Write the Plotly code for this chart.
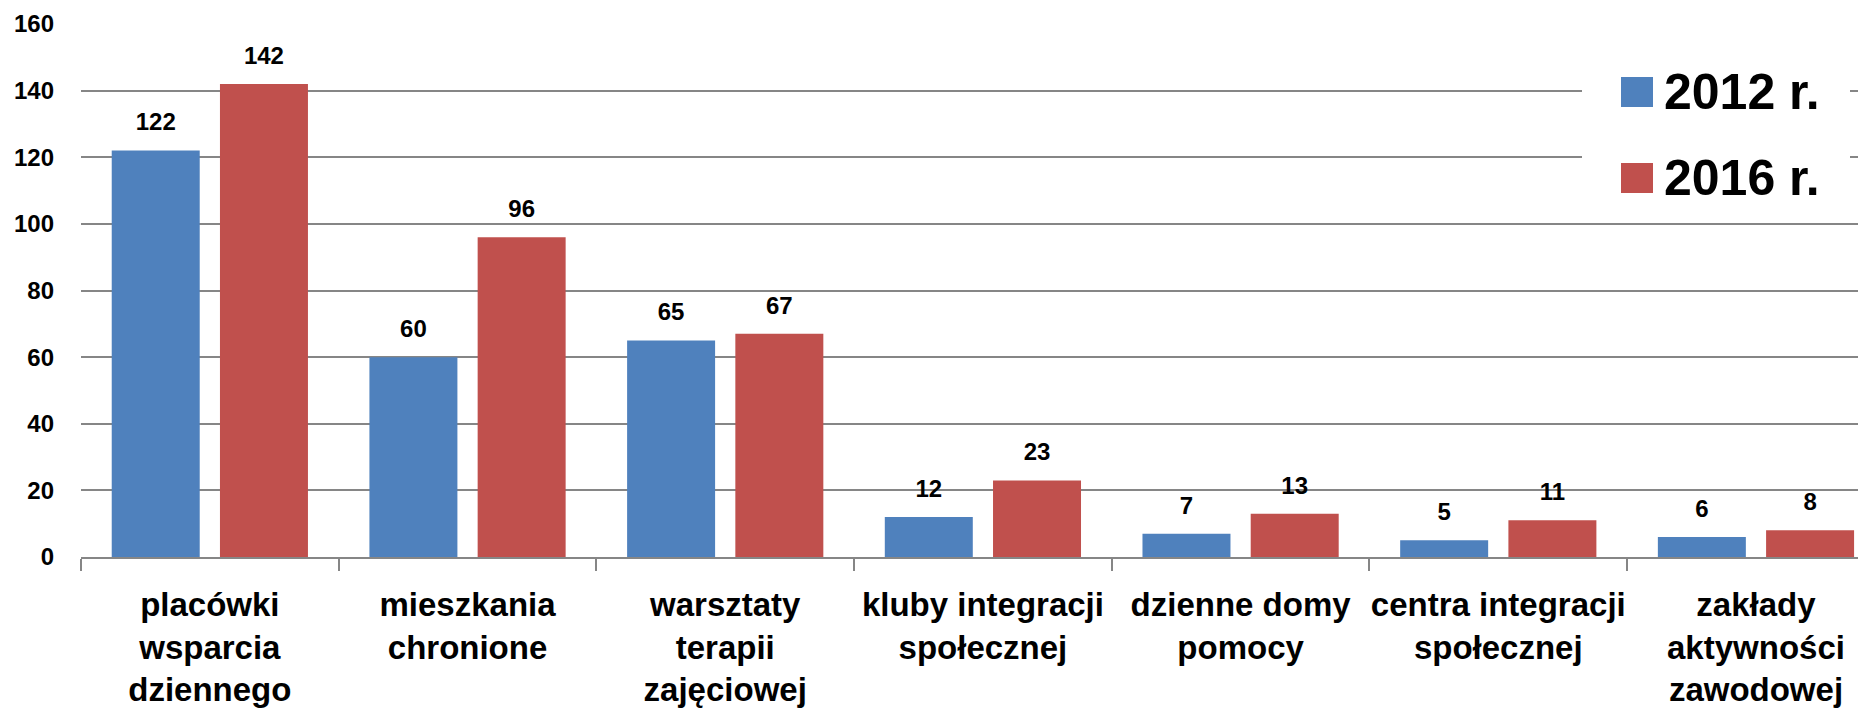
import plotly.graph_objects as go

categories = [
    "placówki<br>wsparcia<br>dziennego",
    "mieszkania<br>chronione",
    "warsztaty<br>terapii<br>zajęciowej",
    "kluby integracji<br>społecznej",
    "dzienne domy<br>pomocy",
    "centra integracji<br>społecznej",
    "zakłady<br>aktywności<br>zawodowej",
]
values_2012 = [122, 60, 65, 12, 7, 5, 6]
values_2016 = [142, 96, 67, 23, 13, 11, 8]
series_names = ["2012 r.", "2016 r."]
colors = ["#4F81BD", "#C0504D"]
y_ticks = [0, 20, 40, 60, 80, 100, 120, 140, 160]

# page has an 8px body margin; figure sized so it ends at the window edge
OFF = 8
W, H = 1866 - OFF, 712 - OFF
PLOT_L, PLOT_T, PLOT_B = 81, 24, 557          # page pixel coordinates of plot area
L, T = PLOT_L - OFF, PLOT_T - OFF
B = H - (PLOT_B - OFF)
R = 0
PW, PH = W - L - R, PLOT_B - PLOT_T
BOLD = "Liberation Sans"


def px(x):
    return (x - PLOT_L) / PW


def py(y):
    return (PLOT_B - y) / PH


fig = go.Figure()
for name, vals, col, og in zip(series_names, [values_2012, values_2016], colors, ["a", "b"]):
    fig.add_trace(go.Bar(
        x=categories, y=vals, name=name, marker_color=col, marker_line_width=0,
        offsetgroup=og, showlegend=False,
    ))
for name, vals, og in zip(series_names, [values_2012, values_2016], ["a", "b"]):
    fig.add_trace(go.Scatter(
        x=categories, y=vals, mode="markers+text", text=[str(v) for v in vals],
        textposition="top center", offsetgroup=og, showlegend=False,
        marker=dict(size=21, opacity=0), hoverinfo="skip",
        textfont=dict(family=BOLD, size=24, color="#000000", weight="bold"),
        cliponaxis=False,
    ))

fig.update_layout(
    width=W, height=H,
    margin=dict(l=L, r=R, t=T, b=B, pad=0),
    paper_bgcolor="white", plot_bgcolor="white",
    barmode="group", bargap=0.16, bargroupgap=0.187,
    scattermode="group", scattergap=0.16,
    font=dict(family=BOLD, color="#000000"),
    xaxis=dict(
        range=[-0.5, 6.427], showline=True, linecolor="#868686", linewidth=2,
        ticks="outside", ticklen=12, tickwidth=2, tickcolor="#868686",
        tickson="boundaries", ticklabelstandoff=17, automargin=False,
        tickangle=0,
        tickfont=dict(family=BOLD, size=33, color="#000000", weight="bold"),
        showgrid=False, zeroline=False,
    ),
    yaxis=dict(
        range=[0, 160], tickvals=y_ticks, showgrid=True, gridcolor="#868686",
        gridwidth=2, zeroline=False, showline=False, ticks="",
        ticklabelstandoff=26, automargin=False,
        tickfont=dict(family=BOLD, size=24, color="#000000", weight="bold"),
    ),
)

# legend drawn with shapes + annotations (large swatches)
fig.add_shape(type="rect", xref="paper", yref="paper", layer="above",
              x0=px(1582), x1=px(1850), y0=py(212), y1=py(55),
              fillcolor="white", line_width=0)
for i, (name, col) in enumerate(zip(series_names, colors)):
    yc = 92 + i * 86
    fig.add_shape(type="rect", xref="paper", yref="paper", layer="above",
                  x0=px(1621), x1=px(1653), y0=py(yc + 15), y1=py(yc - 15),
                  fillcolor=col, line_width=0)
    fig.add_annotation(xref="paper", yref="paper", x=px(1662), y=py(yc),
                       xanchor="left", yanchor="middle", text=name, showarrow=False,
                       font=dict(family=BOLD, size=50, color="#000000", weight="bold"))

fig.write_html("out.html")
